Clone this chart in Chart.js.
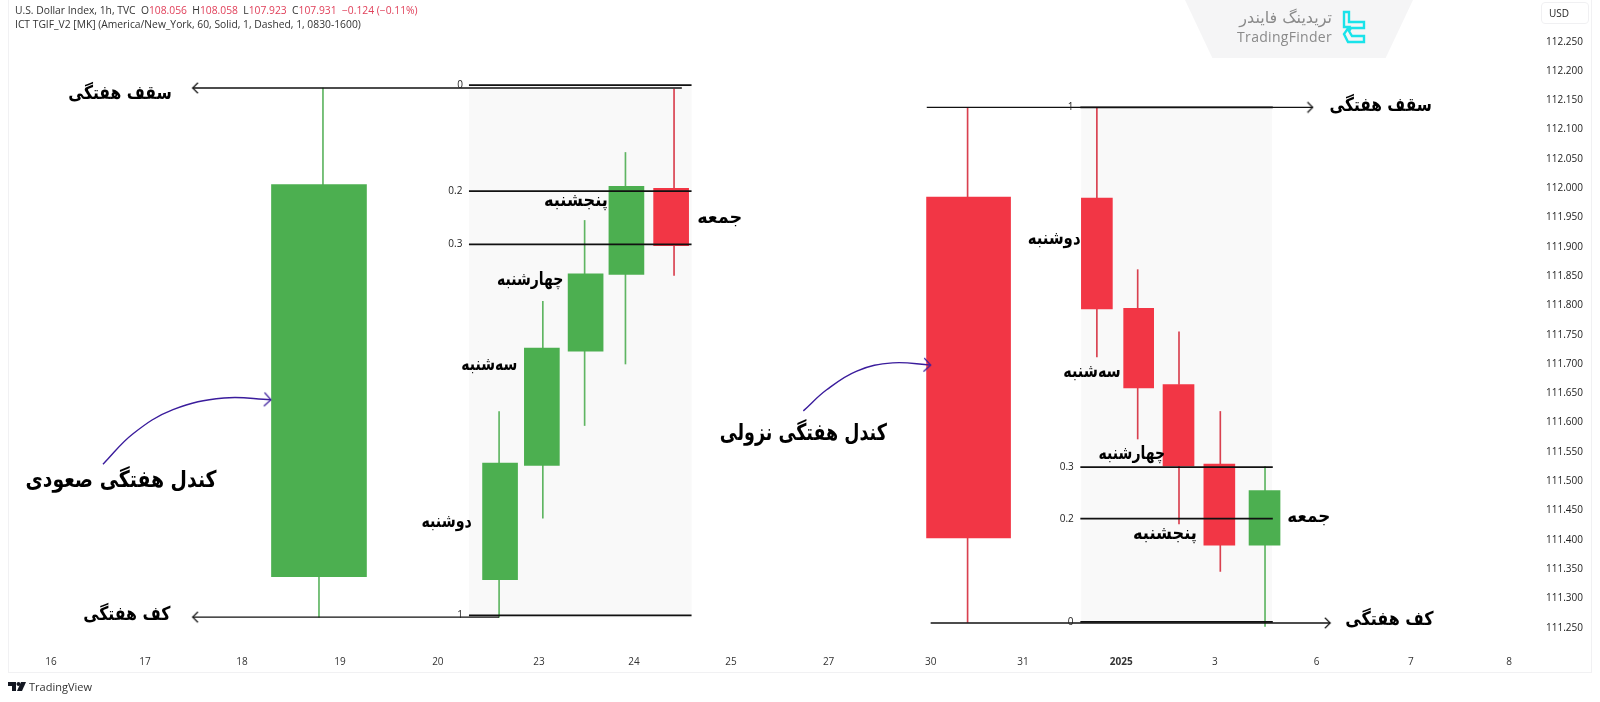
<!DOCTYPE html>
<html lang="fa">
<head>
<meta charset="utf-8">
<title>ICT TGIF</title>
<script src="https://cdn.jsdelivr.net/npm/chart.js@4"></script>
<style>
  html, body { margin: 0; padding: 0; background: #fff; }
  #page { position: relative; width: 1600px; height: 702px; overflow: hidden; font-family: "Open Sans", sans-serif; }
  #frame { position: absolute; left: 8px; top: -1px; width: 1582px; height: 672px; border: 1px solid #f1f1f3; }
  canvas { position: absolute; left: 0; top: 0; }
  .head { position: absolute; left: 15px; font-size: 10.3px; color: #333; white-space: pre; }
  .head b { font-weight: 400; color: #e0405a; }
  #usd { position: absolute; left: 1541px; top: 2px; width: 46px; height: 20px; border: 1px solid #f0f0f2; border-radius: 4px;
         font-size: 10px; line-height: 20px; color: #222; text-indent: 7px; }
  #badge { position: absolute; left: 1185px; top: 0; width: 228px; height: 58px; background: #f5f5f6;
           clip-path: polygon(0 0, 100% 0, 88% 100%, 12% 100%); }
  #tfFa { position: absolute; left: 1236px; top: 8px; width: 96px; text-align: right; direction: rtl; font: 16px "DejaVu Sans", sans-serif; color: #8a8a8a; white-space: nowrap; }
  #tfEn { position: absolute; left: 1236px; top: 27px; width: 96px; text-align: right; font: 14px "Open Sans", sans-serif; letter-spacing: .3px; color: #8a8a8a; }
  #tfIcon { position: absolute; left: 1342px; top: 10px; }
  #tvLogo { position: absolute; left: 8px; top: 682px; }
  #tvName { position: absolute; left: 29px; top: 679px; font-size: 11px; color: #333; }
</style>
</head>
<body>
<div id="page">
  <canvas id="chart" width="1600" height="702"></canvas>
  <div id="frame"></div>
  <div class="head" style="top:3px">U.S. Dollar Index, 1h, TVC  O<b>108.056</b>  H<b>108.058</b>  L<b>107.923</b>  C<b>107.931</b>  <b>−0.124 (−0.11%)</b></div>
  <div class="head" style="top:17px">ICT TGIF_V2 [MK] (America/New_York, 60, Solid, 1, Dashed, 1, 0830-1600)</div>
  <div id="usd">USD</div>
  <div id="badge"></div>
  <div id="tfFa">تریدینگ فایندر</div>
  <div id="tfEn">TradingFinder</div>
  <svg id="tfIcon" width="24" height="34" viewBox="0 0 24 34" fill="none" stroke="#19e3ea" stroke-width="2.4">
    <path d="M2 2h5v10h15v6H9l-2 3 3 5h12v6H6l-4-8 5-7H2z"/>
  </svg>
  <svg id="tvLogo" width="18" height="10" viewBox="0 0 18 10" fill="#131722">
    <path d="M0 0h8v9H4V4H0z"/><circle cx="10.5" cy="2" r="2"/><path d="M13 0h5l-4 9H9z"/>
  </svg>
  <div id="tvName">TradingView</div>
</div>

<script>
// ---------- Axis data ----------
// x values are continuous sessions, 0 = the "16" label
const dayTickPositions = [0, 0.967, 1.965, 2.973, 3.98, 5.02, 5.998, 6.996, 8.0, 9.05, 9.999, 11.01, 11.975, 13.02, 13.99, 15.0];
const dayTickLabels    = ['16', '17', '18', '19', '20', '23', '24', '25', '27', '30', '31', '2025', '3', '6', '7', '8'];
const priceTicks = [112.25, 112.2, 112.15, 112.1, 112.05, 112.0, 111.95, 111.9, 111.85, 111.8, 111.75, 111.7,
                    111.65, 111.6, 111.55, 111.5, 111.45, 111.4, 111.35, 111.3, 111.25];

// ---------- Candles (weekly + daily, bullish set then bearish set) ----------
const candleDays   = [2.757, 4.62, 5.05, 5.50, 5.92, 6.38, 9.44, 10.76, 11.19, 11.60, 12.02, 12.485];
const candleOpen   = [111.337, 111.332, 111.527, 111.722, 111.853, 112.000, 111.985, 111.983, 111.795, 111.665, 111.529, 111.391];
const candleClose  = [112.006, 111.531, 111.727, 111.854, 112.003, 111.902, 111.403, 111.794, 111.659, 111.526, 111.391, 111.484];
const candleHigh   = [112.171, 111.619, 111.807, 111.945, 112.061, 112.169, 112.138, 112.138, 111.861, 111.755, 111.619, 111.525];
const candleLow    = [111.268, 111.268, 111.437, 111.595, 111.700, 111.851, 111.259, 111.712, 111.572, 111.427, 111.346, 111.252];
const highWickDays = [2.798, 4.61, 5.06, 5.49, 5.91, 6.41, 9.43, 10.76, 11.18, 11.605, 12.03, 12.49];
const lowWickDays  = [2.757, 4.61, 5.06, 5.49, 5.91, 6.41, 9.43, 10.76, 11.18, 11.605, 12.03, 12.49];

// ---------- Shaded week boxes ----------
const shadeDays = [5.446, 11.58];
const shadeLow  = [111.268, 111.260];
const shadeHigh = [112.176, 112.138];

// ---------- Fibonacci levels ----------
const levelFrom   = [4.30, 4.30, 4.30, 4.30, 10.59, 10.59, 10.59, 10.59];
const levelTo     = [6.59, 6.59, 6.59, 6.59, 12.57, 12.57, 12.57, 12.57];
const levelPrices = [112.176, 111.995, 111.904, 111.271, 112.138, 111.524, 111.436, 111.260];

const levelTagTexts  = ['0', '0.2', '0.3', '1', '1', '0.3', '0.2', '0'];
const levelTagDays   = [4.21, 4.16, 4.16, 4.21, 10.49, 10.45, 10.45, 10.49];
const levelTagPrices = [112.176, 111.995, 111.904, 111.271, 112.138, 111.524, 111.436, 111.260];

// ---------- Arrow lines (tip first) ----------
const arrowTipDays  = [1.458, 1.458, 12.98, 13.16];
const arrowTailDays = [6.49, 4.61, 9.01, 9.05];
const arrowPrices   = [112.171, 111.268, 112.138, 111.258];

// ---------- Curved purple pointers (tail to tip) ----------
const curveUpDays    = [0.535, 0.844, 1.255, 1.78, 2.263];
const curveUpPrices  = [111.529, 111.581, 111.622, 111.642, 111.639];
const curveDownDays  = [7.74, 7.98, 8.29, 8.66, 9.05];
const curveDownPrices = [111.620, 111.656, 111.688, 111.702, 111.698];

// ---------- Persian notes ----------
const noteTexts  = ['سقف هفتگی', 'کف هفتگی', 'کندل هفتگی صعودی', 'دوشنبه', 'سه‌شنبه', 'چهارشنبه', 'پنجشنبه', 'جمعه',
                    'سقف هفتگی', 'کف هفتگی', 'کندل هفتگی نزولی', 'دوشنبه', 'سه‌شنبه', 'چهارشنبه', 'پنجشنبه', 'جمعه'];
const noteDays   = [0.71, 0.78, 0.72, 4.07, 4.51, 4.93, 5.40, 6.88, 13.68, 13.77, 7.74, 10.32, 10.71, 11.12, 11.46, 12.94];
const notePrices = [112.160, 111.272, 111.500, 111.430, 111.698, 111.842, 111.978, 111.949,
                    112.140, 111.263, 111.581, 111.913, 111.685, 111.546, 111.410, 111.439];

// ---------- Styles ----------
const GREEN = '#4caf50';
const RED = '#f23645';
const INK = '#111111';
const PURPLE = '#3a1c9c';
const bodyWidths = [95, 35, 35, 35, 35, 35, 84, 31, 30, 31, 31, 31];
const shadeWidths = [222, 190];
const noteFonts = [19, 19, 23, 18, 18, 18, 18, 18, 19, 19, 23, 18, 18, 18, 18, 18];
// DejaVu Bold runs wider than the original lettering, so each note is squeezed to its width
const noteStretch = [0.82, 0.83, 0.82, 0.79, 0.78, 0.78, 0.9, 0.98, 0.81, 0.84, 0.76, 0.83, 0.8, 0.78, 0.9, 0.93];

// ---------- Helpers ----------
// Chevron marker with its tip in the middle of the canvas, pointing right
function makeChevron(color, size) {
  const c = document.createElement('canvas');
  c.width = size * 2;
  c.height = size * 2;
  const g = c.getContext('2d');
  g.strokeStyle = color;
  g.lineWidth = 1.2;
  g.beginPath();
  g.moveTo(size - size * 0.75, size - size * 0.75);
  g.lineTo(size, size);
  g.lineTo(size - size * 0.75, size + size * 0.75);
  g.stroke();
  return c;
}

function floatingBar(x, lo, hi, width, color) {
  return {
    type: 'bar',
    data: [{ x: x, y: [lo, hi] }],
    backgroundColor: color,
    barThickness: width,
    grouped: false
  };
}

function flatLine(x1, x2, price, width) {
  return {
    type: 'line',
    data: [{ x: x1, y: price }, { x: x2, y: price }],
    borderColor: INK,
    borderWidth: width,
    pointRadius: 0
  };
}

function arrowLine(i) {
  const rotation = arrowTipDays[i] < arrowTailDays[i] ? 180 : 0;
  const line = flatLine(arrowTipDays[i], arrowTailDays[i], arrowPrices[i], 1.4);
  line.pointStyle = makeChevron(INK, 7);
  line.pointRotation = rotation;
  line.pointRadius = [5, 0];
  return line;
}

function curveLine(days, prices, rotation) {
  return {
    type: 'line',
    data: days.map((d, i) => ({ x: d, y: prices[i] })),
    borderColor: PURPLE,
    borderWidth: 1.4,
    tension: 0.4,
    pointStyle: makeChevron(PURPLE, 9),
    pointRotation: rotation,
    pointRadius: days.map((d, i) => (i === days.length - 1 ? 5 : 0))
  };
}

// ---------- Datasets (first one ends up on top) ----------
const datasets = [];

datasets.push(curveLine(curveUpDays, curveUpPrices, 3));
datasets.push(curveLine(curveDownDays, curveDownPrices, 3));
arrowTipDays.forEach((d, i) => datasets.push(arrowLine(i)));
levelPrices.forEach((p, i) => datasets.push(flatLine(levelFrom[i], levelTo[i], p, 1.7)));

candleDays.forEach((d, i) => {
  const up = candleClose[i] >= candleOpen[i];
  const color = up ? GREEN : RED;
  const top = Math.max(candleOpen[i], candleClose[i]);
  const bottom = Math.min(candleOpen[i], candleClose[i]);
  datasets.push(floatingBar(d, bottom, top, bodyWidths[i], color));
  datasets.push(floatingBar(highWickDays[i], top, candleHigh[i], 1, up ? '#5fb562' : '#d9404f'));
  datasets.push(floatingBar(lowWickDays[i], candleLow[i], bottom, 1, up ? '#5fb562' : '#d9404f'));
});

shadeDays.forEach((d, i) => datasets.push(floatingBar(d, shadeLow[i], shadeHigh[i], shadeWidths[i], '#f9f9f9')));

// ---------- Notes plugin: text placed through the chart's scales ----------
const notesPlugin = {
  id: 'notes',
  afterDatasetsDraw(chart) {
    const { ctx, scales } = chart;
    ctx.save();
    ctx.textAlign = 'center';
    ctx.textBaseline = 'middle';

    ctx.fillStyle = '#222';
    ctx.font = '10px "Open Sans", sans-serif';
    levelTagTexts.forEach((t, i) => {
      ctx.fillText(t, scales.x.getPixelForValue(levelTagDays[i]), scales.y.getPixelForValue(levelTagPrices[i]));
    });

    ctx.fillStyle = '#000';
    ctx.direction = 'rtl';
    noteTexts.forEach((t, i) => {
      ctx.save();
      ctx.translate(scales.x.getPixelForValue(noteDays[i]), scales.y.getPixelForValue(notePrices[i]));
      ctx.scale(noteStretch[i], 1);
      ctx.font = 'bold ' + noteFonts[i] + 'px "DejaVu Sans", sans-serif';
      ctx.fillText(t, 0, 0);
      ctx.restore();
    });
    ctx.restore();
  }
};

// ---------- Chart ----------
new Chart(document.getElementById('chart'), {
  type: 'bar',
  data: { datasets: datasets },
  plugins: [notesPlugin],
  options: {
    responsive: false,
    animation: false,
    layout: { autoPadding: false, padding: { left: 8, right: 8, top: 0, bottom: 30 } },
    plugins: { legend: { display: false }, tooltip: { enabled: false } },
    scales: {
      x: {
        type: 'linear',
        offset: false,
        min: -0.4424,
        max: 15.319,
        grid: { display: false, drawTicks: false },
        border: { display: false },
        afterBuildTicks: (axis) => { axis.ticks = dayTickPositions.map((v) => ({ value: v })); },
        afterFit: (axis) => { axis.height = 22; axis.paddingLeft = 0; axis.paddingRight = 0; },
        ticks: {
          autoSkip: false,
          maxRotation: 0,
          padding: 6,
          color: '#333',
          font: (ctx) => ({
            family: '"Open Sans", sans-serif',
            size: 10,
            weight: ctx.index === dayTickLabels.indexOf('2025') ? 'bold' : 'normal'
          }),
          callback: (value, index) => dayTickLabels[index]
        }
      },
      y: {
        position: 'right',
        min: 111.2119,
        max: 112.3212,
        grid: { display: false, drawTicks: false },
        border: { display: false },
        afterBuildTicks: (axis) => { axis.ticks = priceTicks.map((v) => ({ value: v })); },
        afterFit: (axis) => { axis.width = 52; axis.paddingTop = 0; axis.paddingBottom = 0; },
        ticks: {
          autoSkip: false,
          padding: 6,
          color: '#222',
          font: { family: '"Open Sans", sans-serif', size: 10 },
          callback: (value) => value.toFixed(3)
        }
      }
    }
  }
});
</script>
</body>
</html>
